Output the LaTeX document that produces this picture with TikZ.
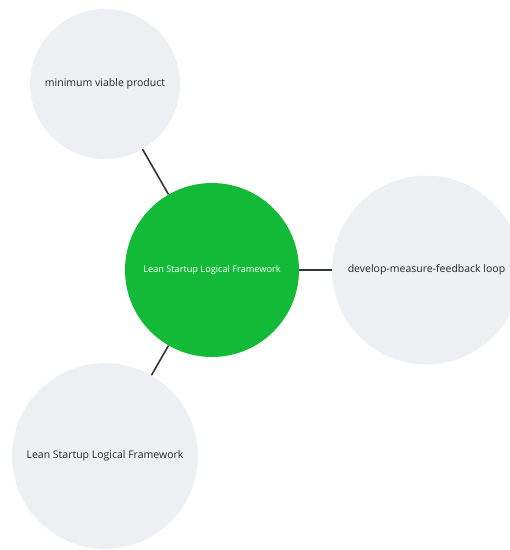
\documentclass[tikz,border=0pt]{standalone}
\usepackage{fontspec}
\setmainfont{Open Sans}
\definecolor{bubble}{HTML}{EDF0F3}
\definecolor{hub}{HTML}{13BA38}
\definecolor{linkc}{HTML}{333333}
\begin{document}
\begin{tikzpicture}[x=1pt,y=-1pt,
  leaf/.style={circle,fill=bubble,inner sep=0pt,font=\fontsize{10.5}{12}\selectfont,text=black!85},
  hubnode/.style={circle,fill=hub,inner sep=0pt,minimum size=174pt,font=\fontsize{9.2}{11}\selectfont,text=white},
  link/.style={draw=linkc,line width=1.6pt}]
\useasboundingbox (0,0) rectangle (510,550);
\node[hubnode] (c) at (212,270) {\raisebox{-1.5pt}{Lean Startup Logical Framework}};
\node[leaf,minimum size=150pt] (t) at (105,84) {\raisebox{-1.5pt}{minimum viable product}};
\node[leaf,minimum size=189pt] (r) at (426.5,270) {\raisebox{-1.5pt}{develop-measure-feedback loop}};
\node[leaf,minimum size=186pt] (b) at (105,456) {\raisebox{-1.5pt}{Lean Startup Logical Framework}};
\draw[link] (t) -- (c);
\draw[link] (c) -- (r);
\draw[link] (b) -- (c);
\end{tikzpicture}
\end{document}
